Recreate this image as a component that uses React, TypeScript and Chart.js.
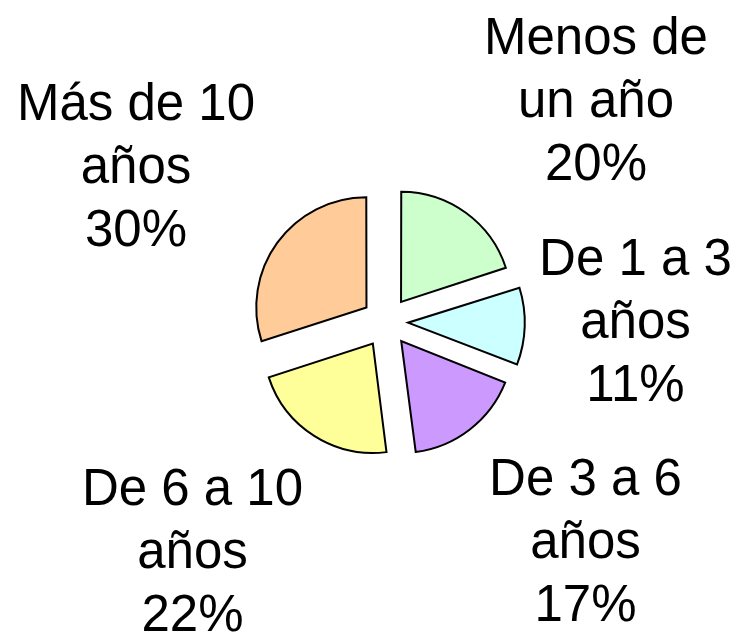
import React, { useEffect, useRef } from "react";
import { Chart, registerables } from "chart.js";

Chart.register(...registerables);

const categories = ["Menos de un año", "De 1 a 3 años", "De 3 a 6 años", "De 6 a 10 años", "Más de 10 años"];
const labelLines = [
  ["Menos de", "un año"],
  ["De 1 a 3", "años"],
  ["De 3 a 6", "años"],
  ["De 6 a 10", "años"],
  ["Más de 10", "años"],
];
const values = [20, 11, 17, 22, 30];
const colors = ["#CCFFCC", "#CCFFFF", "#CC99FF", "#FFFF99", "#FFCC99"];
// explode offsets (Chart.js arc offset units) so each slice moves ~26px outward
const explode = [99, 86, 96, 102, 99];
// label anchor (middle line baseline) relative to pie centre
const labelDX = [209.5, 249, 199, -194, -250.5];
const labelDY = [-205, 16, 236, 246, -139];

const FONT = "51px 'Liberation Sans', Arial, sans-serif";
const LINE_H = 63.3;

const labelPlugin = {
  id: "sliceLabels",
  afterDraw(chart: any) {
    const ctx = chart.ctx;
    const meta = chart.getDatasetMeta(0);
    ctx.save();
    ctx.font = FONT;
    ctx.fillStyle = "#000";
    ctx.textAlign = "center";
    ctx.textBaseline = "alphabetic";
    meta.data.forEach((arc: any, i: number) => {
      const lines = [...labelLines[i], `${values[i]}%`];
      const cx = arc.x + labelDX[i];
      const cy = arc.y + labelDY[i];
      lines.forEach((t, j) => {
        ctx.fillText(t, cx, cy + (j - 1) * LINE_H);
      });
    });
    ctx.restore();
  },
};

export default function App() {
  const ref = useRef<HTMLCanvasElement>(null);
  useEffect(() => {
    if (!ref.current) return;
    const chart = new Chart(ref.current, {
      type: "pie",
      data: {
        labels: categories,
        datasets: [
          {
            data: values,
            backgroundColor: colors,
            borderColor: "#000",
            borderWidth: 2,
            borderJoinStyle: "miter",
            offset: explode,
            radius: 109,
          } as any,
        ],
      },
      options: {
        animation: false,
        responsive: true,
        maintainAspectRatio: false,
        layout: { padding: { left: 33, top: 6, right: 0, bottom: 0 } },
        plugins: {
          legend: { display: false },
          tooltip: { enabled: false },
        },
      },
      plugins: [labelPlugin],
    });
    return () => chart.destroy();
  }, []);
  return (
    <div style={{ position: "absolute", left: 0, top: 0, width: 740, height: 638, background: "#fff" }}>
      <canvas ref={ref} />
    </div>
  );
}
